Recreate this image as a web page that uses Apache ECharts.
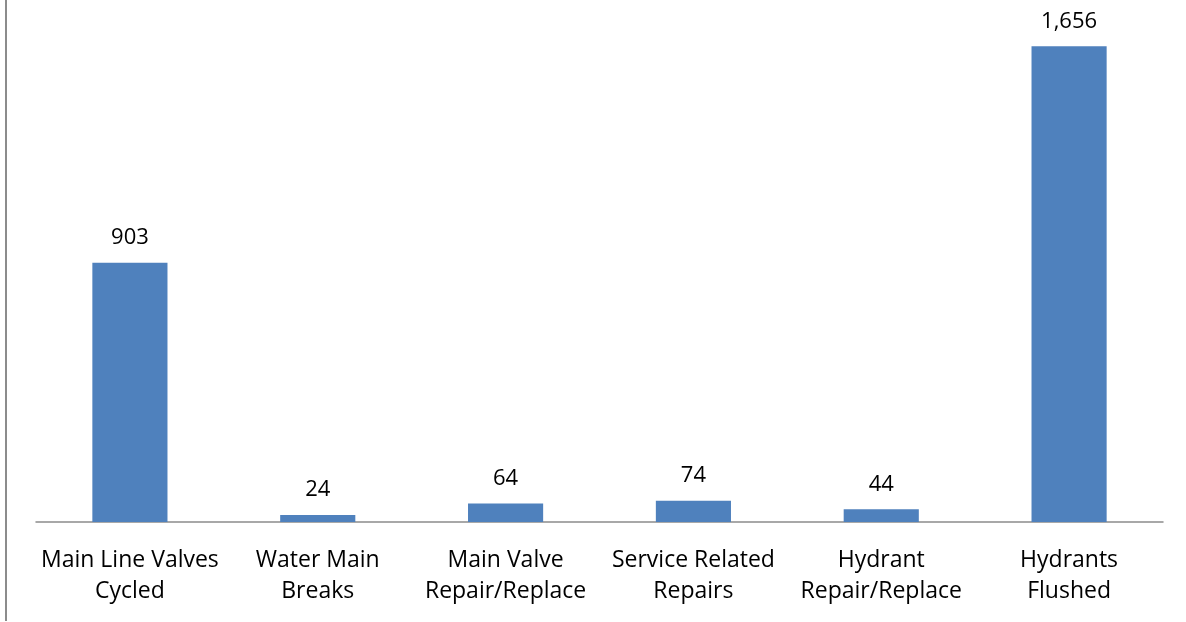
<!DOCTYPE html>
<html>
<head>
<meta charset="utf-8">
<script src="https://cdn.jsdelivr.net/npm/echarts@6/dist/echarts.min.js"></script>
<style>
  html, body { margin: 0; padding: 0; background: #fff; }
  #chart { width: 1186px; height: 622px; }
</style>
</head>
<body>
<div id="chart"></div>
<script>
// Water system work counts
const categories = [
  'Main Line Valves\nCycled',
  'Water Main\nBreaks',
  'Main Valve\nRepair/Replace',
  'Service Related\nRepairs',
  'Hydrant\nRepair/Replace',
  'Hydrants\nFlushed'
];
const counts = [903, 24, 64, 74, 44, 1656];

const FONT = '"Open Sans", Lato, sans-serif';

const chart = echarts.init(document.getElementById('chart'));
chart.setOption({
  animation: false,
  grid: { left: 36, right: 23, top: 5, bottom: 100, containLabel: false },
  xAxis: {
    type: 'category',
    data: categories,
    axisLine: { show: true, lineStyle: { color: '#8c8c8c', width: 1.5 } },
    axisTick: { show: false },
    axisLabel: {
      color: '#000',
      fontFamily: FONT,
      fontSize: 23,
      lineHeight: 31,
      margin: 23,
      interval: 0
    }
  },
  yAxis: {
    type: 'value',
    min: 0,
    max: 1800,
    show: false,
    splitLine: { show: false }
  },
  series: [{
    type: 'bar',
    data: counts,
    barWidth: '40%',
    itemStyle: { color: '#4f81bd' },
    label: {
      show: true,
      position: 'top',
      distance: 14,
      color: '#000',
      fontFamily: FONT,
      fontSize: 22,
      formatter: p => p.value.toLocaleString('en-US')
    }
  }],
  graphic: [{
    type: 'line',
    shape: { x1: 6, y1: 0, x2: 6, y2: 621 },
    style: { stroke: '#8c8c8c', lineWidth: 2 }
  }]
});
</script>
</body>
</html>
